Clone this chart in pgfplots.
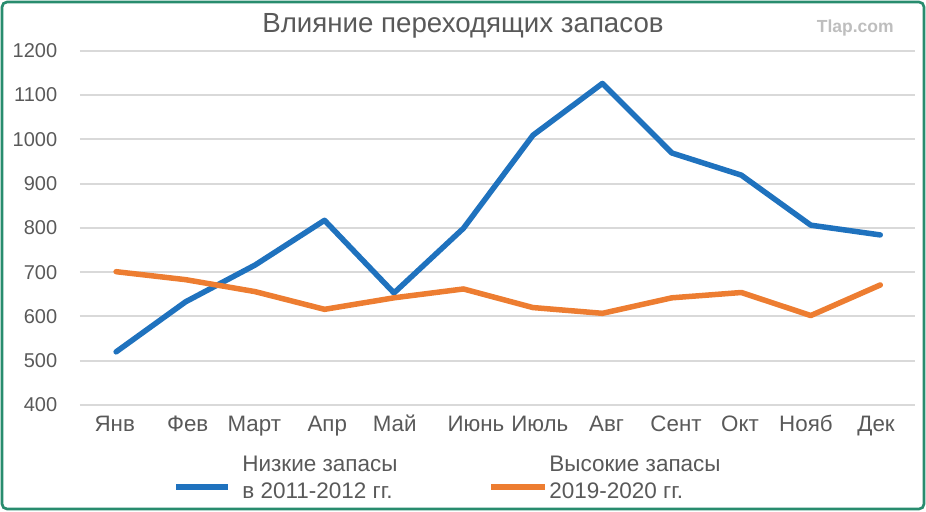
\documentclass[border=0pt]{standalone}
\usepackage{fontspec}
\setmainfont{Liberation Sans}
\usepackage{pgfplots}
\pgfplotsset{compat=1.18}

\definecolor{lowblue}{RGB}{31,114,190}
\definecolor{highorange}{RGB}{237,125,49}
\definecolor{framegreen}{RGB}{40,140,110}
\definecolor{gridgray}{RGB}{217,217,217}
\definecolor{textgray}{RGB}{89,89,89}
\definecolor{markgray}{RGB}{190,190,190}

\tikzset{
  lowline/.style={color=lowblue, line width=3.3pt, line join=round, line cap=round},
  highline/.style={color=highorange, line width=3.3pt, line join=round, line cap=round},
  legtext/.style={anchor=base west, text=textgray, inner sep=0pt, font=\fontsize{13.5}{16}\selectfont},
}

\begin{document}
\begin{tikzpicture}[x=0.6pt, y=0.6pt]
\useasboundingbox (0,0) rectangle (926,511);
% frame
\draw[framegreen, line width=1.6pt, rounded corners=3pt] (2,2) rectangle (924,509);

% title and site mark
\node[anchor=base, text=textgray, font=\fontsize{16.6}{20}\selectfont, inner sep=0pt]
  at (463,478) {Влияние переходящих запасов};
\node[anchor=base east, text=markgray, font=\bfseries\fontsize{10.5}{12}\selectfont, inner sep=0pt]
  at (894,478) {Tlap.com};

\begin{axis}[
  at={(80*0.6pt,106*0.6pt)}, anchor=south west,
  scale only axis,
  width=501pt, height=212.6pt,
  xmin=-0.52, xmax=11.5,
  ymin=400, ymax=1200,
  enlargelimits=false,
  axis line style={draw=none},
  major tick length=0pt,
  ymajorgrids,
  grid style={gridgray, line width=1.2pt},
  ytick={400,500,...,1200},
  xtick={-0.02,1.03,1.99,3.04,4.01,5.18,6.1,7.06,8.06,8.98,9.93,10.94},
  xticklabels={Янв,Фев,Март,Апр,Май,Июнь,Июль,Авг,Сент,Окт,Нояб,Дек},
  /pgf/number format/.cd, assume math mode=true, 1000 sep={},
  /pgfplots/.cd,
  yticklabel style={anchor=east, inner sep=0pt, xshift=-13.5pt,
    text=textgray, font=\fontsize{12}{14}\selectfont},
  xticklabel style={anchor=base, inner sep=0pt, yshift=-16pt,
    text=textgray, font=\fontsize{13.4}{16}\selectfont},
  clip=false,
]
% low carry-over stocks, 2011-2012
\addplot[lowline] coordinates {
  (0,520) (1,633) (2,716) (3,817) (4,653) (5,799)
  (6,1009) (7,1126) (8,969) (9,919) (10,806) (11,784)
};
% high carry-over stocks, 2019-2020
\addplot[highline] coordinates {
  (0,701) (1,683) (2,656) (3,616) (4,642) (5,662)
  (6,620) (7,607) (8,642) (9,654) (10,602) (11,671)
};
\end{axis}

% legend
\draw[lowline, line cap=butt] (176,24) -- (228,24);
\node[legtext] at (242,39.3) {Низкие запасы};
\node[legtext] at (242,13) {в 2011-2012 гг.};
\draw[highline, line cap=butt] (491,24) -- (545,24);
\node[legtext] at (549,39.3) {Высокие запасы};
\node[legtext] at (549,13) {2019-2020 гг.};
\end{tikzpicture}
\end{document}
